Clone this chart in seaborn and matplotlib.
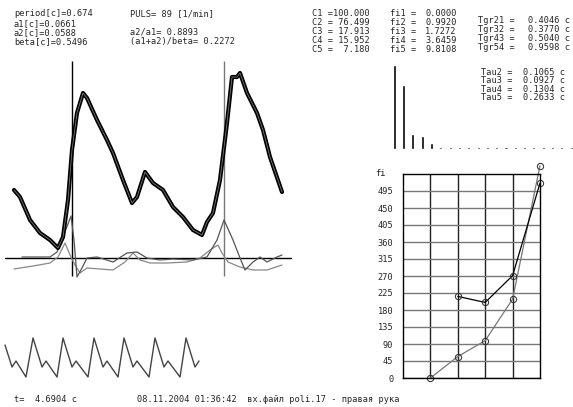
import matplotlib
matplotlib.use("Agg")
import matplotlib.pyplot as plt
import seaborn as sns

W, H = 573, 407
FS = 6.2
MONO = "DejaVu Sans Mono"

# --- data ---------------------------------------------------------------
period, puls, a1, a2, beta = 0.674, 89, 0.0661, 0.0588, 0.5496
a2_a1, a12_beta = 0.8893, 0.2272
C_amp = [100.000, 76.499, 17.913, 15.952, 7.180]
fi = [0.0000, 0.9920, 1.7272, 3.6459, 9.8108]
tgr = [0.4046, 0.3770, 0.5040, 0.9598]
tau = [0.1065, 0.0927, 0.1304, 0.2633]
t_total = 4.6904
stamp = "08.11.2004 01:36:42  вх.файл poli.17 - правая рука"

# pulse wave (sample index, amplitude)
wave_x = [14, 20, 30, 40, 50, 58, 63, 68, 72, 77, 83, 87, 97, 107, 113, 123,
          132, 137, 145, 153, 163, 173, 183, 193, 202, 207, 213, 220, 227,
          232, 237, 240, 247, 257, 263, 270, 282]
wave_y = [68, 61, 38, 25, 18, 10, 21, 58, 108, 145, 165, 160, 138, 118, 105,
          78, 55, 61, 86, 75, 68, 51, 41, 28, 23, 36, 45, 78, 135, 181, 181,
          185, 165, 145, 128, 101, 66]
# derivative curves
d1_x = [22, 37, 50, 57, 63, 71, 74, 77, 82, 87, 97, 113, 127, 137, 147, 160,
        173, 193, 207, 217, 224, 233, 240, 245, 253, 260, 267, 277, 282]
d1_y = [1, 1, 1, 6, 21, 42, 18, -19, -10, 0, 1, -4, 5, 6, 0, -2, -1, -2, 1,
        18, 38, 18, 0, -12, -4, 1, -4, 1, 3]
d2_x = [14, 33, 50, 58, 65, 70, 75, 80, 87, 100, 113, 125, 133, 140, 150,
        167, 187, 200, 210, 218, 222, 228, 240, 253, 267, 282]
d2_y = [-11, -8, -5, 1, 15, 3, -7, -15, -10, -11, -12, -4, 5, -2, -5, -5, -4,
        0, 8, 13, 5, -4, -9, -12, -12, -7]
marker_x = [72, 224]

# full record (lower strip)
rec_x = [5, 12, 16, 26, 33, 42, 46, 57, 63, 72, 76, 88, 94, 103, 107, 118,
         124, 133, 137, 149, 155, 164, 168, 180, 186, 195, 199]
rec_y = [35, 13, 19, 3, 42, 13, 19, 3, 42, 13, 19, 3, 42, 13, 19, 3, 42, 13,
         19, 3, 42, 13, 19, 3, 42, 13, 19]

# harmonic spectrum
harm_n = [1, 2, 3, 4, 5, 6, 7, 8, 9, 10, 11, 12, 13, 14, 15, 16, 17, 18, 19, 20]
harm_amp = C_amp + [2.0] * 15

# phase plot
phase_x = [1, 2, 3, 4, 5]
phase_deg = [0, 56.8, 99.0, 208.9, 562.1]
phase2_x = [2, 3, 4, 5]
phase2_deg = [216, 200, 271, 516]
phase_ticks = [0, 45, 90, 135, 180, 225, 270, 315, 360, 405, 450, 495]


def box(x0, y0, x1, y1):
    return [x0 / W, 1 - y1 / H, (x1 - x0) / W, (y1 - y0) / H]


def block(x, y_top, lines, ls=0.98):
    # one multi-line text per column; y_top is the top of the first row
    fig.text(x / W, 1 - y_top / H, "\n".join(lines), fontsize=FS, family=MONO,
             va="top", ha="left", linespacing=ls)


sns.set_style("white")
fig = plt.figure(figsize=(W / 100, H / 100), dpi=100)

# --- pulse wave ---------------------------------------------------------
ax = fig.add_axes(box(0, 55, 295, 290))
ax.set_xlim(0, 295)
ax.set_ylim(-32, 203)
ax.axis("off")
ax.axhline(0, xmin=5 / 295, xmax=291 / 295, color="black", lw=1)
ax.vlines(marker_x, -18, 197, colors=["black", "#777777"], lw=1)
sns.lineplot(x=d2_x, y=d2_y, color="#888888", lw=0.9, ax=ax, estimator=None)
sns.lineplot(x=d1_x, y=d1_y, color="#555555", lw=0.9, ax=ax, estimator=None)
sns.lineplot(x=wave_x, y=wave_y, color="black", lw=3, ax=ax, estimator=None)
sns.lineplot(x=wave_x, y=wave_y, color="#777777", lw=0.6, ax=ax, estimator=None)

# --- lower strip --------------------------------------------------------
ax2 = fig.add_axes(box(0, 330, 295, 380))
ax2.set_xlim(0, 295)
ax2.set_ylim(0, 50)
ax2.axis("off")
sns.lineplot(x=rec_x, y=rec_y, color="#444444", lw=1, ax=ax2, estimator=None)

# --- spectrum -----------------------------------------------------------
ax3 = fig.add_axes(box(385, 60, 573, 150))
sns.barplot(x=harm_n, y=harm_amp, native_scale=True, width=0.33,
            color="black", saturation=1, ax=ax3)
ax3.set_xlim(0, 20.2)
ax3.set_ylim(-1.2, 106)
ax3.axis("off")

# --- phase plot ---------------------------------------------------------
ax4 = fig.add_axes(box(403, 174, 540, 378))
ax4.set_xlim(0, 5)
ax4.set_ylim(0, 540)
ax4.set_xticks([1, 2, 3, 4])
ax4.set_xticklabels([])
ax4.set_yticks(phase_ticks)
ax4.set_yticklabels([str(v) for v in phase_ticks], fontsize=FS, family=MONO)
ax4.tick_params(length=0, pad=7)
ax4.grid(axis="x", color="#222222", lw=1)
ax4.grid(axis="y", color="#777777", lw=1)
for s in ax4.spines.values():
    s.set_color("black")
    s.set_linewidth(1)
sns.lineplot(x=phase_x, y=phase_deg, color="#777777", lw=0.9, marker="o",
             ms=4.5, markerfacecolor="none", markeredgecolor="#333333",
             clip_on=False, ax=ax4, estimator=None)
sns.lineplot(x=phase2_x, y=phase2_deg, color="black", lw=0.9, marker="o",
             ms=4.5, markerfacecolor="none", markeredgecolor="#333333",
             clip_on=False, ax=ax4, estimator=None)
ax4.text(-0.2, 1.0, "fi", transform=ax4.transAxes, fontsize=FS, family=MONO,
         ha="left", va="center")

# --- texts --------------------------------------------------------------
block(14, 9.5, [f"period[c]={period}", f"a1[c]={a1}", f"a2[c]={a2}",
                f"beta[c]={beta}"], ls=1.02)
block(130, 9.5, [f"PULS= {puls} [1/min]", "", f"a2/a1= {a2_a1}",
                 f"(a1+a2)/beta= {a12_beta}"], ls=1.02)
block(312, 9.3, [f"C{i + 1} ={c:7.3f}" for i, c in enumerate(C_amp)])
block(390, 9.3, [f"fi{i + 1} =" for i in range(len(fi))])
block(425, 9.3, [f"{f:.4f}" for f in fi])
block(478, 16.0, [f"Tgr{i + 2}{i + 1} =" for i in range(len(tgr))])
block(528, 16.0, [f"{v:.4f} c" for v in tgr])
block(481, 68.0, [f"Tau{i + 2} =" for i in range(len(tau))], ls=0.92)
block(523, 68.0, [f"{v:.4f} c" for v in tau], ls=0.92)
block(14, 395, [f"t=  {t_total} c"])
block(137, 395, [stamp])

fig.savefig("out.png", dpi=100)
